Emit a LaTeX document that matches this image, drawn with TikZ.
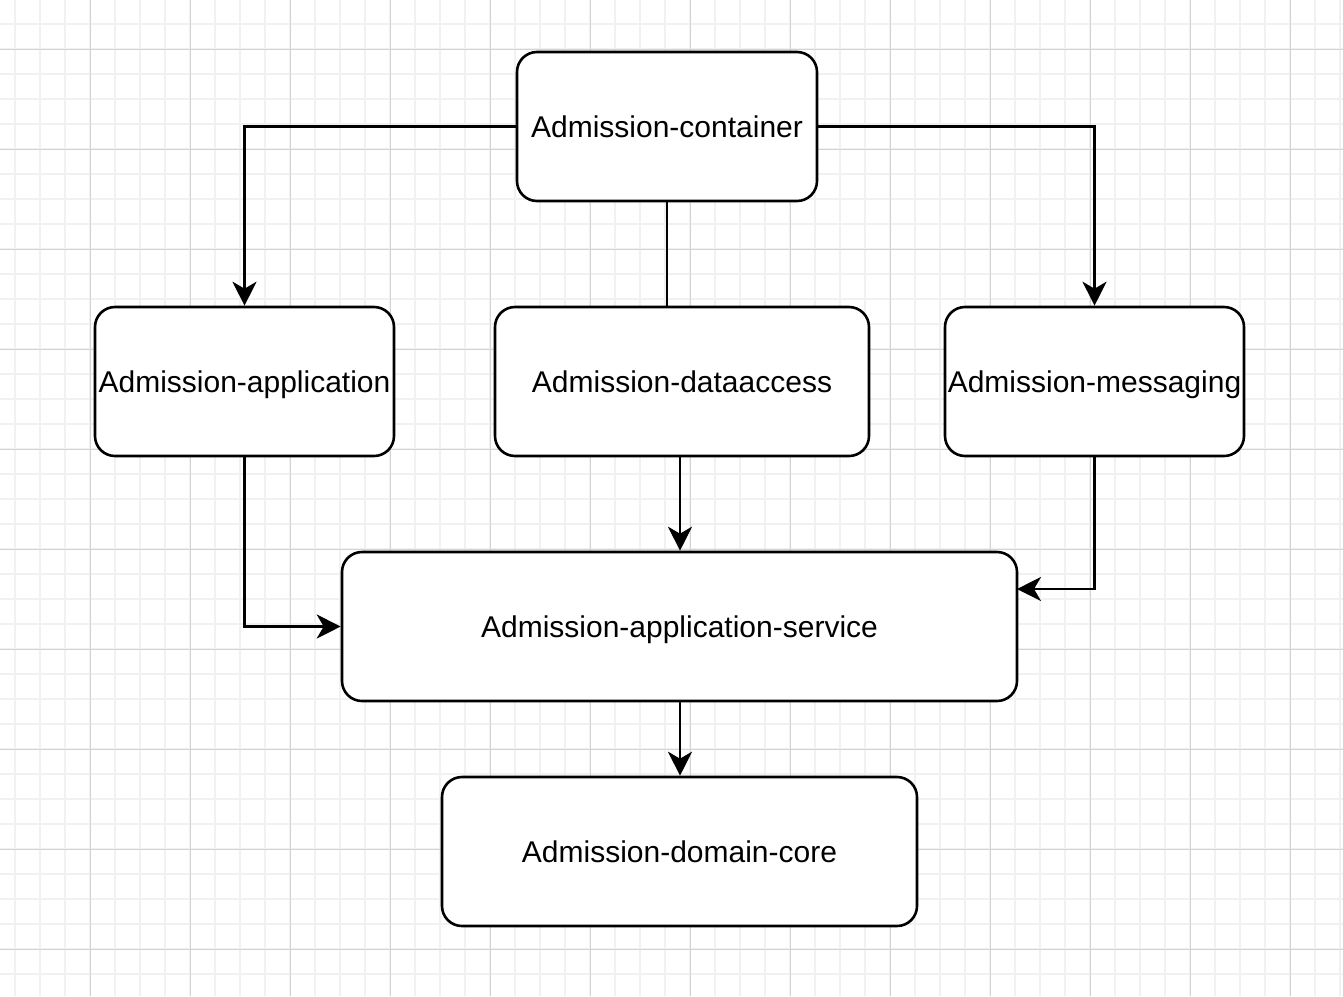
\documentclass[tikz,border=0pt]{standalone}
\usepackage{fontspec}
\setmainfont{Liberation Sans}
\usetikzlibrary{arrows.meta}
\definecolor{gridminor}{HTML}{F1F1F1}
\definecolor{gridmajor}{HTML}{D4D4D4}
\tikzset{
  box/.style={draw=black, line width=1.3pt, rounded corners=10pt, fill=white,
    inner sep=0pt, font=\fontsize{15pt}{18pt}\selectfont, text=black,
    text height=12pt, text depth=1.5pt},
  conn/.style={draw=black, line width=1.2pt, -{Stealth[length=12pt,width=12pt,inset=3.5pt]}},
  plain/.style={draw=black, line width=1.2pt},
  gminor/.style={draw=gridminor, line width=0.6pt},
  gmajor/.style={draw=gridmajor, line width=0.5pt}
}
\begin{document}
\begin{tikzpicture}[x=0.5pt,y=-0.5pt]
\useasboundingbox (0,0) rectangle (1343,996);
\fill[white] (0,0) rectangle (1343,996);
% minor grid
\foreach \i in {0,...,54} { \draw[gminor] ({15+25*\i},0) -- ({15+25*\i},996); }
\foreach \j in {0,...,40} { \draw[gminor] (0,{-1+25*\j}) -- (1343,{-1+25*\j}); }
% major grid
\foreach \i in {0,...,13} { \draw[gmajor] ({90+100*\i},0) -- ({90+100*\i},996); }
\foreach \j in {0,...,9} { \draw[gmajor] (0,{49+100*\j}) -- (1343,{49+100*\j}); }

\node[box, minimum width=150pt, minimum height=74.5pt] (cont) at (667,126.5) {Admission-container};
\node[box, minimum width=149.5pt, minimum height=74.5pt] (app) at (244.5,381.5) {Admission-application};
\node[box, minimum width=187pt, minimum height=74.5pt] (data) at (682,381.5) {Admission-dataaccess};
\node[box, minimum width=149.5pt, minimum height=74.5pt] (msg) at (1094.5,381.5) {Admission-messaging};
\node[box, minimum width=337.5pt, minimum height=74.5pt] (svc) at (679.5,626.5) {Admission-application-service};
\node[box, minimum width=237.5pt, minimum height=74.5pt] (core) at (679.5,851.5) {Admission-domain-core};

\draw[conn] (cont.west) -| (app.north);
\draw[conn] (cont.east) -| (msg.north);
\coordinate (dtop) at (667,307);
\draw[plain] (cont.south) -- (dtop);
\draw[conn] (app.south) |- (svc.west);
\draw[conn] (data.south -| 680,0) -- (svc.north -| 680,0);
\coordinate (svcE) at (1017,589);
\draw[conn] (msg.south) |- (svcE);
\draw[conn] (svc.south -| 680,0) -- (core.north -| 680,0);
\end{tikzpicture}
\end{document}
